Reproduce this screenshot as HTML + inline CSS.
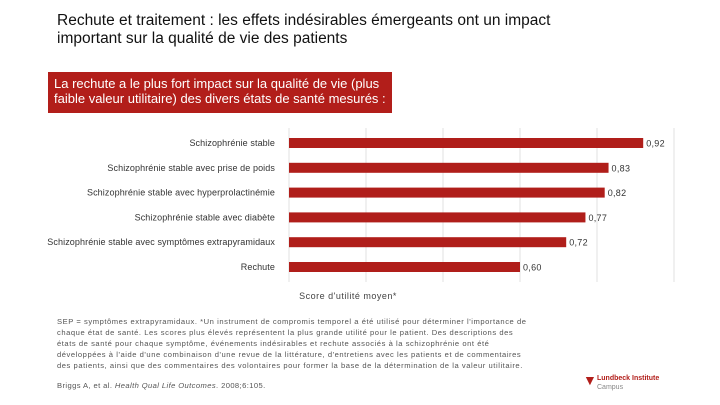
<!DOCTYPE html>
<html><head><meta charset="utf-8"><style>
body{margin:0;width:720px;height:405px;background:#fff;position:relative;overflow:hidden;font-family:"Liberation Sans",sans-serif}
.t{position:absolute;left:57px;top:12px;font-size:15.5px;line-height:18px;color:#111}
.box{position:absolute;left:48px;top:72px;width:344px;height:41px;background:#b21e1a;color:#fff;font-size:13px;line-height:15px;padding:4px 0 0 6px;box-sizing:border-box;white-space:nowrap}
.box span{display:inline-block;transform:scaleX(1.0);transform-origin:left}
.fn{position:absolute;left:57px;top:316px;font-size:7.6px;line-height:11px;color:#555;white-space:nowrap;letter-spacing:0.55px}
.ref{position:absolute;left:57px;top:381px;font-size:7.6px;color:#555;letter-spacing:0.4px}
.logo{position:absolute;left:597px;top:374px;font-size:7px;color:#b21e1a;font-weight:bold;line-height:9px}
</style></head><body>
<div class="t">Rechute et traitement : les effets indésirables émergeants ont un impact<br>important sur la qualité de vie des patients</div>
<div class="box"><span>La rechute a le plus fort impact sur la qualité de vie (plus</span><br><span>faible valeur utilitaire) des divers états de santé mesurés :</span></div>
<svg id="chart" width="720" height="405" style="position:absolute;left:0;top:0"></svg>
<div class="fn">SEP = symptômes extrapyramidaux. *Un instrument de compromis temporel a été utilisé pour déterminer l'importance de<br>chaque état de santé. Les scores plus élevés représentent la plus grande utilité pour le patient. Des descriptions des<br>états de santé pour chaque symptôme, événements indésirables et rechute associés à la schizophrénie ont été<br>développées à l'aide d'une combinaison d'une revue de la littérature, d'entretiens avec les patients et de commentaires<br>des patients, ainsi que des commentaires des volontaires pour former la base de la détermination de la valeur utilitaire.</div>
<div class="ref">Briggs A, et al. <i>Health Qual Life Outcomes</i>. 2008;6:105.</div>
<div class="logo"><span style="font-size:14px;position:absolute;left:-14px;top:2px">▼</span>Lundbeck Institute<br><span style="color:#888;font-weight:normal">Campus</span></div>
<script>
const categories=["Schizophrénie stable","Schizophrénie stable avec prise de poids","Schizophrénie stable avec hyperprolactinémie","Schizophrénie stable avec diabète","Schizophrénie stable avec symptômes extrapyramidaux","Rechute"];
const values=[0.92,0.83,0.82,0.77,0.72,0.60];
const labels=["0,92","0,83","0,82","0,77","0,72","0,60"];
const ticks=[0,0.2,0.4,0.6,0.8,1.0];
const svg=document.getElementById('chart');
const NS='http://www.w3.org/2000/svg';
const x=v=>289+v*385;
const y=i=>143+i*24.8;
function mk(t,a){const e=document.createElementNS(NS,t);for(const k in a)e.setAttribute(k,a[k]);svg.appendChild(e);return e;}
ticks.forEach(t=>{const l=mk('line',{x1:x(t),x2:x(t),y1:128,y2:282,stroke:'#e0e0e0','stroke-width':1});

});
categories.forEach((c,i)=>{
const r=mk('rect',{x:x(0),y:y(i)-5,width:x(values[i])-x(0),height:10,fill:'#b01e1a'});


const tl=mk('text',{x:275,y:y(i)+3,'text-anchor':'end','font-size':'9','letter-spacing':'0.1','fill':'#333','font-family':'Liberation Sans, sans-serif'});tl.textContent=c;


const vl=mk('text',{x:x(values[i])+3,y:y(i)+3.5,'font-size':'9','letter-spacing':'0.3','fill':'#333','font-family':'Liberation Sans, sans-serif'});vl.textContent=labels[i];


});
const at=mk('text',{x:348,y:299,'text-anchor':'middle','font-size':'9','letter-spacing':'0.5','fill':'#444','font-family':'Liberation Sans, sans-serif'});at.textContent="Score d'utilité moyen*";


</script>
</body></html>
